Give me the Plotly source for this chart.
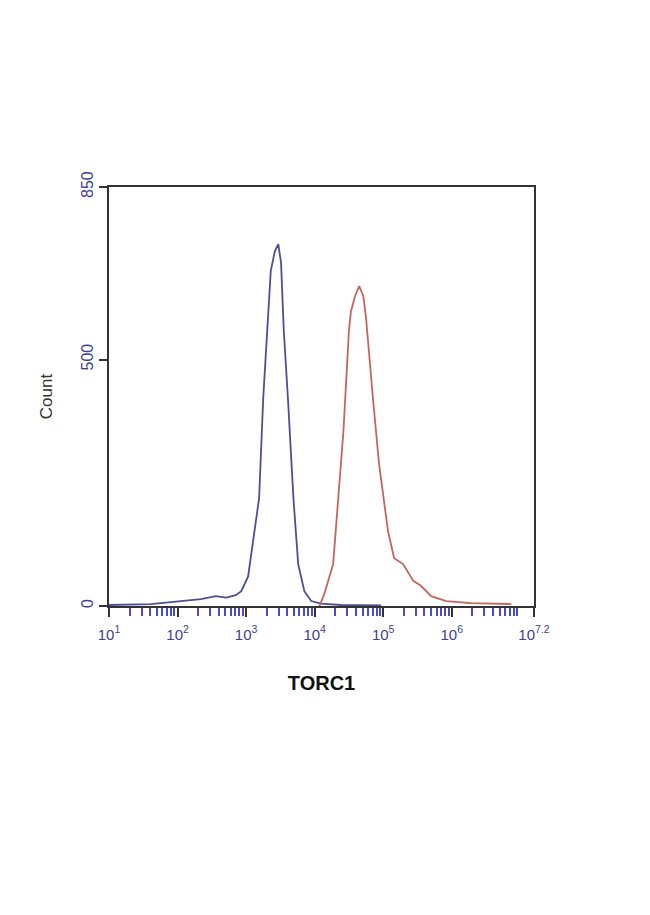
import plotly.graph_objects as go

# blue (control) histogram, x as log10 decade, y as count
blue_log = [1.00, 1.61, 2.05, 2.34, 2.56, 2.71, 2.85, 2.93, 3.03, 3.12, 3.19, 3.25, 3.29,
            3.32, 3.36, 3.42, 3.47, 3.51, 3.55, 3.61, 3.69, 3.76, 3.85, 3.95, 4.09, 4.39, 4.97]
blue_count = [2, 4, 10, 14, 20, 17, 22, 30, 60, 152, 219, 422, 523,
              584, 680, 720, 734, 696, 558, 422, 219, 85, 30, 10, 5, 2, 1]

# red (TORC1 stained) histogram
red_log = [4.07, 4.14, 4.27, 4.34, 4.42, 4.50, 4.53, 4.59, 4.65, 4.71, 4.75, 4.85, 4.94,
           5.07, 5.16, 5.29, 5.44, 5.55, 5.70, 5.92, 6.28, 6.87]
red_count = [0, 24, 85, 219, 355, 558, 598, 629, 649, 629, 584, 422, 288,
             152, 97, 85, 51, 41, 20, 10, 6, 4]

x_tick_exp = [1, 2, 3, 4, 5, 6, 7.2]
x_tick_text = ["10<sup>1</sup>", "10<sup>2</sup>", "10<sup>3</sup>", "10<sup>4</sup>",
               "10<sup>5</sup>", "10<sup>6</sup>", "10<sup>7.2</sup>"]
y_tick_vals = [0, 500, 850]

navy = "#3d4190"

fig = go.Figure()
fig.add_trace(go.Scatter(x=[10 ** v for v in blue_log], y=blue_count, mode="lines",
                         line=dict(color="#4b4f96", width=1.8), showlegend=False))
fig.add_trace(go.Scatter(x=[10 ** v for v in red_log], y=red_count, mode="lines",
                         line=dict(color="#c4655f", width=1.8), showlegend=False))

# log minor ticks (2..9 in each decade)
minor_vals = []
for d in range(1, 8):
    for k in range(2, 10):
        v = k * 10 ** d
        if v < 10 ** 7.2:
            minor_vals.append(v)

fig.update_xaxes(type="log", range=[1, 7.2],
                 tickmode="array", tickvals=[10 ** e for e in x_tick_exp], ticktext=x_tick_text,
                 ticks="outside", ticklen=9, tickwidth=1.5, tickcolor="#333",
                 ticklabelstandoff=5,
                 tickfont=dict(family="Liberation Sans", size=15, color=navy),
                 minor=dict(tickmode="array", tickvals=minor_vals, ticks="outside",
                            ticklen=8, tickwidth=2, tickcolor="#4a4ad0"),
                 showline=True, linecolor="#333", linewidth=1.5, mirror=True,
                 showgrid=False, zeroline=False,
                 title=dict(text="<b>TORC1</b>", standoff=34,
                            font=dict(family="Liberation Sans", size=20, color="#111")))
fig.update_yaxes(range=[0, 850], tickmode="array", tickvals=y_tick_vals,
                 ticks="outside", ticklen=8, tickwidth=1.5, tickcolor="#333",
                 tickangle=-90,
                 tickfont=dict(family="Liberation Sans", size=16, color=navy),
                 showline=True, linecolor="#333", linewidth=1.5, mirror=True,
                 showgrid=False, zeroline=False,
                 title=dict(text="Count", standoff=22,
                            font=dict(family="Liberation Sans", size=17, color="#333")))

fig.update_layout(width=650, height=915,
                  margin=dict(l=101, r=124, t=179, b=317),
                  paper_bgcolor="white", plot_bgcolor="white")

fig.write_html("out.html")
